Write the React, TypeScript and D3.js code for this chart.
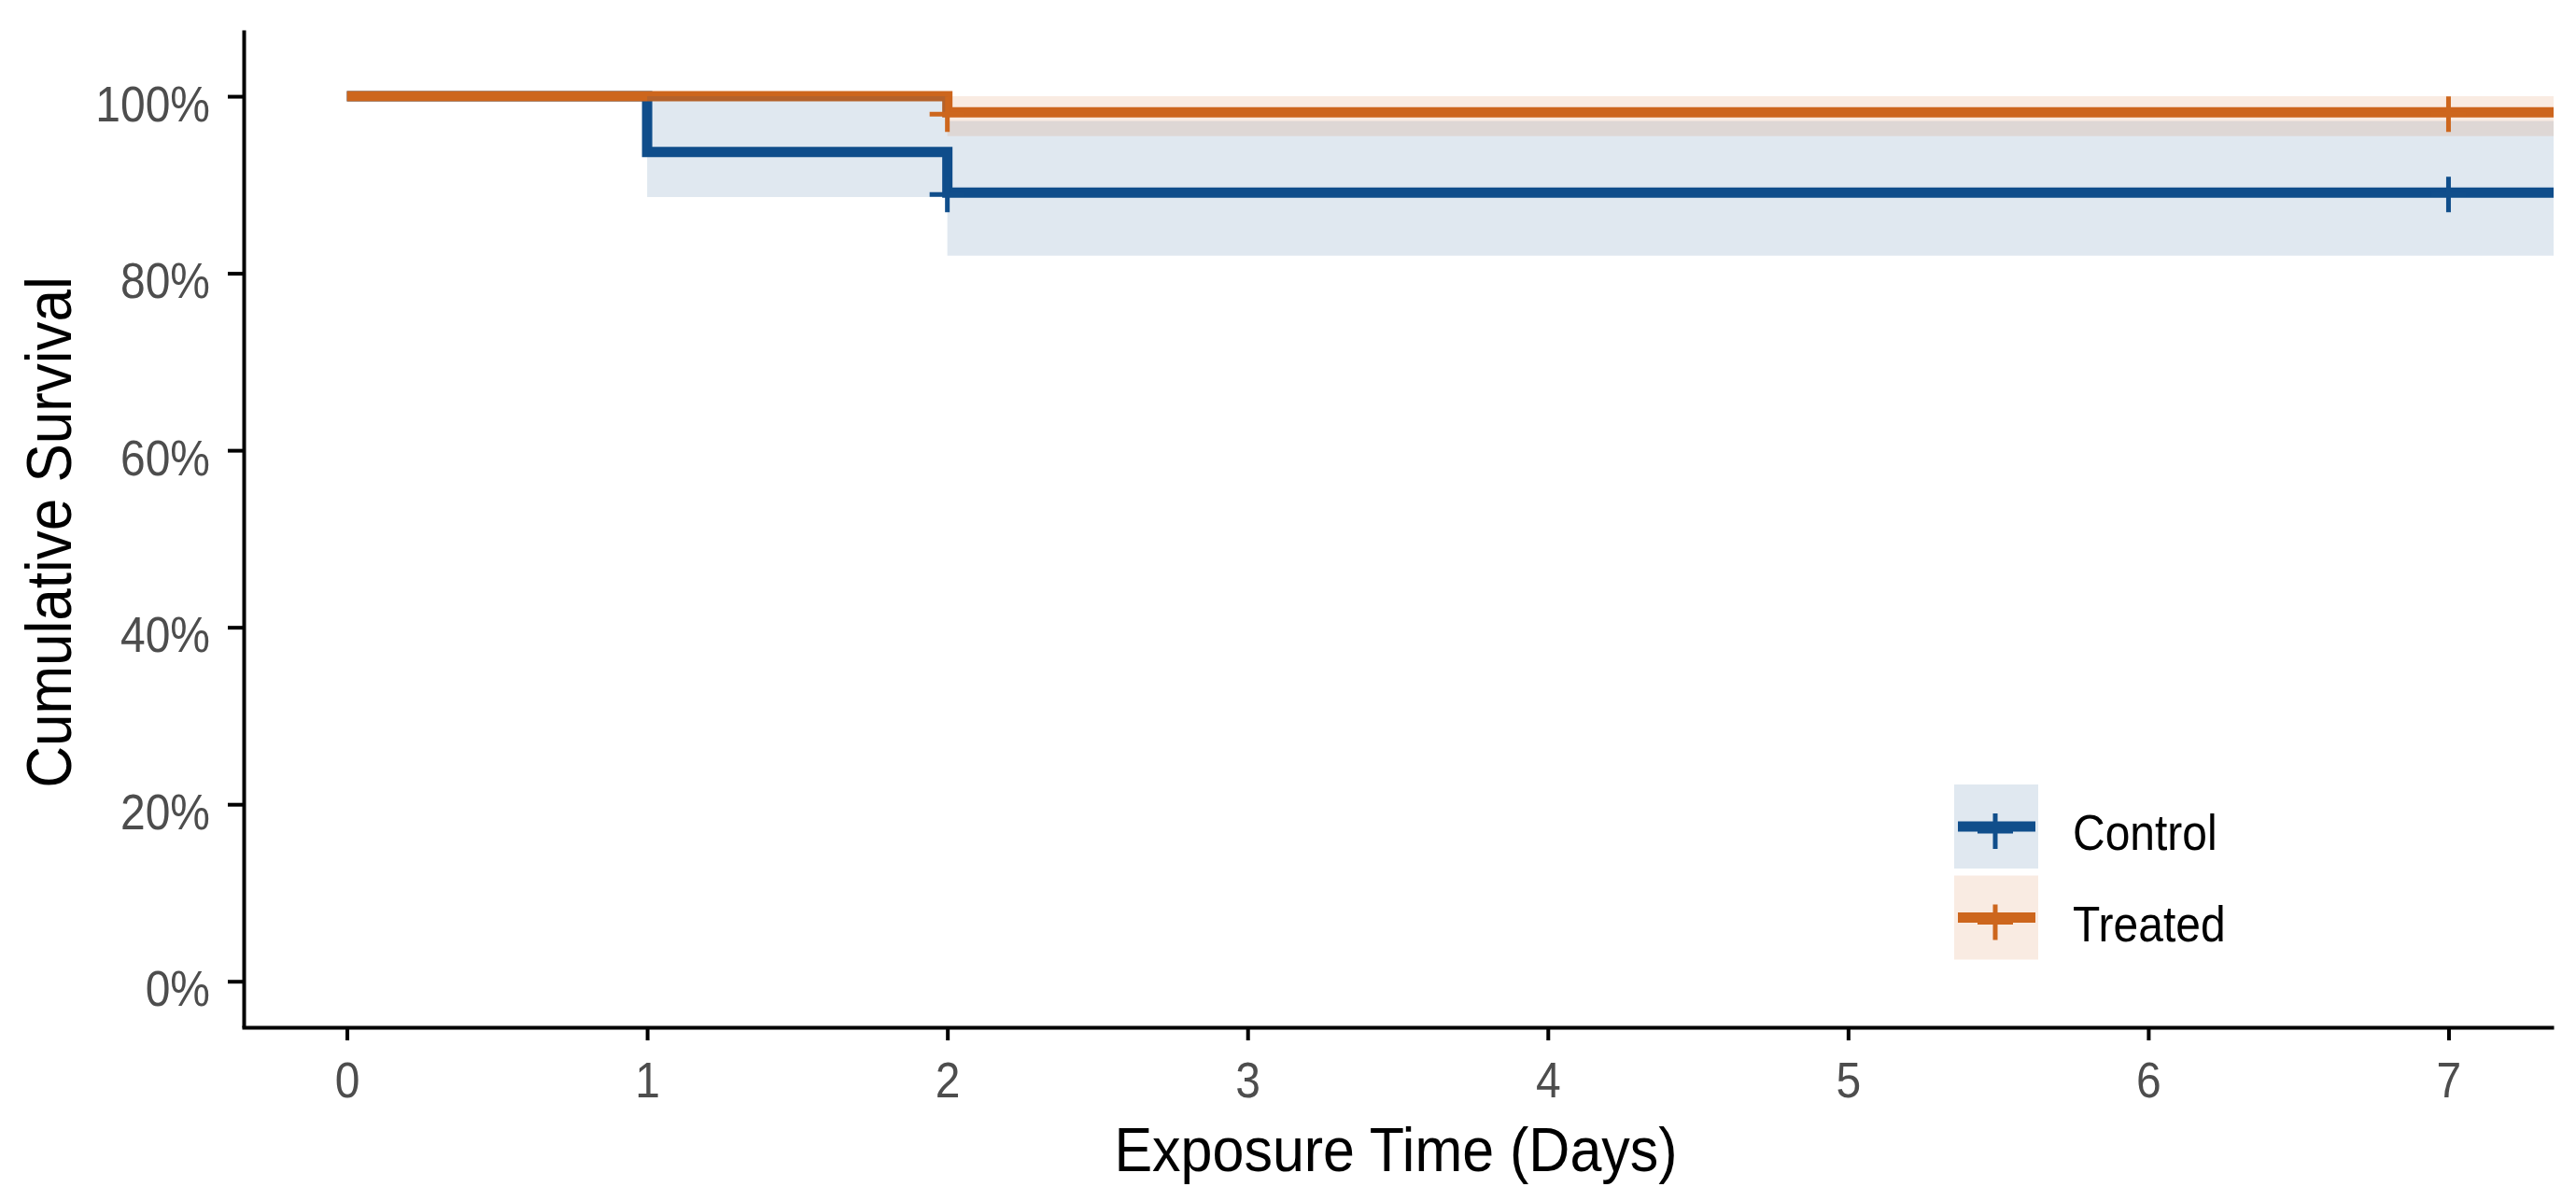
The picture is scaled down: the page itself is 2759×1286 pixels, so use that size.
import React, { useEffect, useRef } from "react";
import * as d3 from "d3";

// survival curves (Kaplan-Meier steps)
const groups = ["Control", "Treated"];
const groupColors = ["#104E8B", "#CD661D"];

const controlTimes = [0, 1, 2];
const controlSurv = [1, 0.937, 0.891];
const controlUpper = [1, 1, 0.972];
const controlLower = [1, 0.886, 0.82];
const controlCensor = [2, 7];

const treatedTimes = [0, 2];
const treatedSurv = [1, 0.982];
const treatedUpper = [1, 1];
const treatedLower = [1, 0.955];
const treatedCensor = [2, 7];

const xTicks = [0, 1, 2, 3, 4, 5, 6, 7];
const yTicks = [0, 0.2, 0.4, 0.6, 0.8, 1];

const FONT = "'Liberation Sans', Arial, sans-serif";

type Step = { t: number; s: number; lo: number; hi: number };

const App: React.FC = () => {
  const svgRef = useRef<SVGSVGElement>(null);

  useEffect(() => {
    const svg = d3.select(svgRef.current);
    svg.selectAll("*").remove();

    const xMax = 7.35;
    const x = d3.scaleLinear().domain([-0.35, xMax]).range([259, 2735]);
    const y = d3.scaleLinear().domain([-0.052, 1.075]).range([1100, 32]);

    const series = [
      { times: controlTimes, surv: controlSurv, hi: controlUpper, lo: controlLower, censor: controlCensor },
      { times: treatedTimes, surv: treatedSurv, hi: treatedUpper, lo: treatedLower, censor: treatedCensor },
    ];

    const toSteps = (d: (typeof series)[number]): Step[] => {
      const pts = d.times.map((t, i) => ({ t, s: d.surv[i], lo: d.lo[i], hi: d.hi[i] }));
      const last = pts[pts.length - 1];
      pts.push({ ...last, t: xMax });
      return pts;
    };

    const line = d3
      .line<Step>()
      .x((d) => x(d.t))
      .y((d) => y(d.s))
      .curve(d3.curveStepAfter);

    const area = d3
      .area<Step>()
      .x((d) => x(d.t))
      .y0((d) => y(d.lo))
      .y1((d) => y(d.hi))
      .curve(d3.curveStepAfter);

    // axes
    const yAxis = d3
      .axisLeft(y)
      .tickValues(yTicks)
      .tickFormat(d3.format(".0%") as any)
      .tickSize(17)
      .tickSizeOuter(0);
    const gy = svg.append("g").attr("transform", "translate(261,0)").call(yAxis);
    gy.select(".domain").attr("stroke", "#000").attr("stroke-width", 4);
    gy.selectAll(".tick line").attr("stroke", "#000").attr("stroke-width", 4);
    gy.selectAll(".tick text")
      .attr("x", -36)
      .attr("y", 26 / 1.1)
      .attr("dy", 0)
      .attr("transform", "scale(1,1.1)")
      .attr("font-size", 48)
      .attr("font-family", FONT)
      .attr("fill", "#4D4D4D");

    const xAxis = d3
      .axisBottom(x)
      .tickValues(xTicks)
      .tickFormat(d3.format("d") as any)
      .tickSize(14)
      .tickSizeOuter(0);
    const gx = svg.append("g").attr("transform", "translate(0,1100)").call(xAxis);
    gx.select(".domain").attr("stroke", "#000").attr("stroke-width", 4);
    gx.selectAll(".tick line").attr("stroke", "#000").attr("stroke-width", 4);
    gx.selectAll(".tick text")
      .attr("y", 75 / 1.1)
      .attr("dy", 0)
      .attr("transform", "scale(1,1.1)")
      .attr("font-size", 48)
      .attr("font-family", FONT)
      .attr("fill", "#4D4D4D");

    // step lines
    series.forEach((d, i) => {
      svg
        .append("path")
        .attr("d", line(toSteps(d)))
        .attr("fill", "none")
        .attr("stroke", groupColors[i])
        .attr("stroke-width", 11)
        .attr("stroke-linejoin", "miter");
    });

    // confidence ribbons
    series.forEach((d, i) => {
      svg
        .append("path")
        .attr("d", area(toSteps(d)))
        .attr("fill", groupColors[i])
        .attr("fill-opacity", 0.13);
    });

    // censor marks
    const plus = "M-19,0H19M0,-19V19";
    series.forEach((d, i) => {
      d.censor.forEach((t) => {
        const idx = d3.bisectRight(d.times, t) - 1;
        svg
          .append("path")
          .attr("d", plus)
          .attr("transform", `translate(${x(t)},${y(d.surv[idx]) + 2})`)
          .attr("stroke", groupColors[i])
          .attr("stroke-width", 5)
          .attr("fill", "none");
      });
    });

    // legend
    groups.forEach((name, i) => {
      const top = 840 + i * 97.5;
      const cy = top + 45;
      svg
        .append("rect")
        .attr("x", 2093)
        .attr("y", top)
        .attr("width", 90)
        .attr("height", 90)
        .attr("fill", groupColors[i])
        .attr("fill-opacity", 0.13);
      svg
        .append("line")
        .attr("x1", 2097)
        .attr("x2", 2180)
        .attr("y1", cy)
        .attr("y2", cy)
        .attr("stroke", groupColors[i])
        .attr("stroke-width", 11);
      svg
        .append("path")
        .attr("d", plus)
        .attr("transform", `translate(2137,${cy + 5})`)
        .attr("stroke", groupColors[i])
        .attr("stroke-width", 5);
      svg
        .append("text")
        .text(name)
        .attr("transform", `translate(2220,${cy + 25}) scale(1,1.12)`)
        .attr("font-size", 48)
        .attr("font-family", FONT)
        .attr("fill", "#000");
    });

    // axis titles
    svg
      .append("text")
      .text("Exposure Time (Days)")
      .attr("transform", "translate(1495,1254) scale(1,1.08)")
      .attr("text-anchor", "middle")
      .attr("font-size", 61)
      .attr("font-family", FONT)
      .attr("fill", "#000");

    svg
      .append("text")
      .text("Cumulative Survival")
      .attr("transform", "translate(76,570) rotate(-90) scale(1,1.1)")
      .attr("text-anchor", "middle")
      .attr("font-size", 62)
      .attr("font-family", FONT)
      .attr("fill", "#000");
  }, []);

  return (
    <svg
      ref={svgRef}
      width={2759}
      height={1286}
      style={{ position: "absolute", left: 0, top: 0, background: "#fff" }}
    ></svg>
  );
};

export default App;
